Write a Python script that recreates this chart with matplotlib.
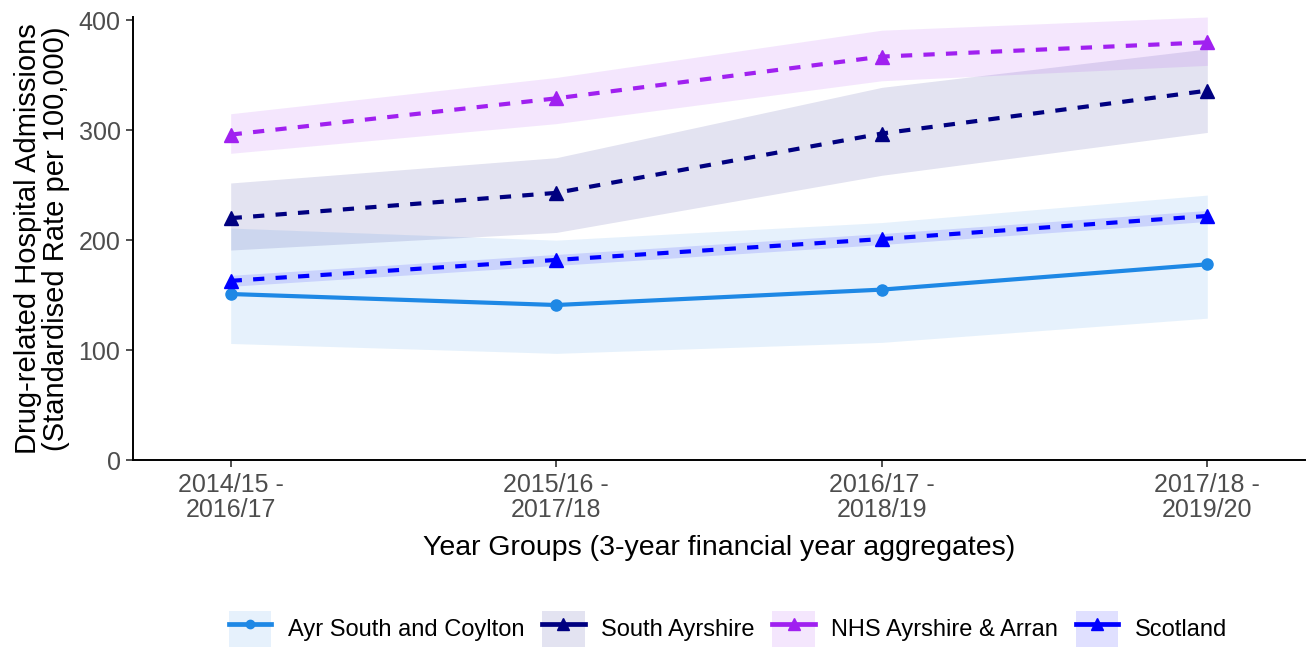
import matplotlib.pyplot as plt
from matplotlib.patches import Patch
from matplotlib.lines import Line2D
from matplotlib.legend_handler import HandlerTuple
import numpy as np

plt.rcParams['font.family'] = ['Liberation Sans', 'DejaVu Sans']

periods = ['2014/15 -\n2016/17', '2015/16 -\n2017/18', '2016/17 -\n2018/19', '2017/18 -\n2019/20']

ayr = [151, 141, 155, 178]
ayr_lo = [106, 97, 107, 129]
ayr_hi = [211, 200, 216, 241]

south_ayr = [220, 243, 297, 336]
south_ayr_lo = [191, 207, 259, 298]
south_ayr_hi = [252, 275, 339, 374]

nhs = [296, 329, 367, 380]
nhs_lo = [279, 306, 345, 359]
nhs_hi = [315, 348, 391, 403]

scotland = [163, 182, 201, 222]
scotland_lo = [158, 177, 196, 217]
scotland_hi = [168, 187, 206, 227]

names = ['Ayr South and Coylton', 'South Ayrshire', 'NHS Ayrshire & Arran', 'Scotland']

fig = plt.figure(figsize=(13.11, 6.49), dpi=100)
ax = fig.add_axes([133/1311, 189/649, 1172/1311, 443/649])

x = np.arange(len(periods))
series = [
    (ayr, ayr_lo, ayr_hi, '#1E88E5', 'o', '-', 8, 0.11),
    (south_ayr, south_ayr_lo, south_ayr_hi, '#000080', '^', '--', 10, 0.11),
    (nhs, nhs_lo, nhs_hi, '#A020F0', '^', '--', 10, 0.11),
    (scotland, scotland_lo, scotland_hi, '#0000FF', '^', '--', 10, 0.12),
]

handles = []
for vals, lo, hi, col, mk, ls, ms, a in series:
    ax.fill_between(x, lo, hi, color=col, alpha=a, linewidth=0)
for vals, lo, hi, col, mk, ls, ms, a in series:
    if ls == '--':
        ax.plot(x, vals, color=col, marker=mk, linestyle='--', dashes=(2.7, 2.7),
                linewidth=3.0, markersize=ms)
    else:
        ax.plot(x, vals, color=col, marker=mk, linestyle='-', linewidth=3.0, markersize=ms)
    box = Patch(facecolor=col, alpha=a, edgecolor='none')
    key = Line2D([], [], color=col, marker=mk, linestyle='-', linewidth=3.4, markersize=ms - 2)
    handles.append((box, key))

ax.set_xlim(-0.3, 3.3)
ax.set_ylim(0, 403)
ax.set_yticks([0, 100, 200, 300, 400])
ax.set_xticks(x)
ax.set_xticklabels(periods, linespacing=1.1)
ax.tick_params(labelsize=18, labelcolor='#4D4D4D', color='#333333', length=5, width=1.2, pad=4)
for s in ['top', 'right']:
    ax.spines[s].set_visible(False)
for s in ['left', 'bottom']:
    ax.spines[s].set_linewidth(1.4)
    ax.spines[s].set_color('black')

ax.set_xlabel('Year Groups (3-year financial year aggregates)', fontsize=20.5, labelpad=9)
ax.set_ylabel('Drug-related Hospital Admissions\n(Standardised Rate per 100,000)',
              fontsize=21, labelpad=6, linespacing=1.0)

fig.legend(handles, names, loc='center', bbox_to_anchor=(728/1311, 20/649), ncol=4,
           frameon=False, fontsize=17, handlelength=1.8, handleheight=2.0,
           handletextpad=0.7, columnspacing=0.75, borderaxespad=0,
           handler_map={tuple: HandlerTuple(ndivide=1, pad=0)})

fig.savefig('out.png', dpi=100)
